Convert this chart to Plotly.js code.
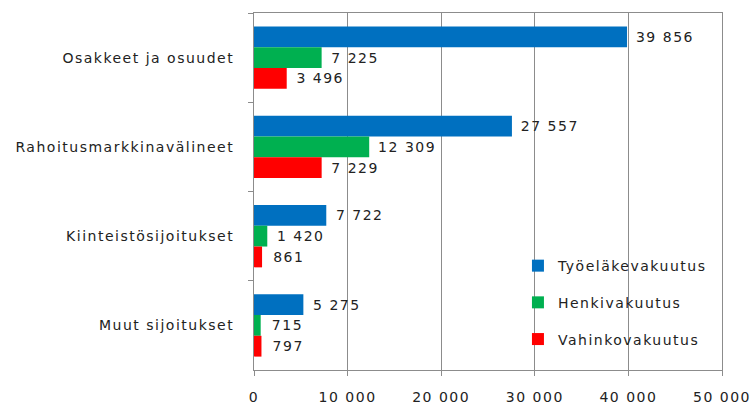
<!DOCTYPE html>
<html><head><meta charset="utf-8">
<script src="https://cdn.plot.ly/plotly-3.0.1.min.js"></script>
<style>html,body{margin:0;padding:0;background:#fff}
#chart text{letter-spacing:1.5px}
#chart .legend [clip-path]{clip-path:none !important}</style>
</head><body>
<div id="chart" style="width:752px;height:405px"></div>
<script>
var categories = ["Osakkeet ja osuudet", "Rahoitusmarkkinavälineet", "Kiinteistösijoitukset", "Muut sijoitukset"];
var seriesNames = ["Työeläkevakuutus", "Henkivakuutus", "Vahinkovakuutus"];
var tyoelake = [39856, 27557, 7722, 5275];
var henki = [7225, 12309, 1420, 715];
var vahinko = [3496, 7229, 861, 797];
var xTicks = [0, 10000, 20000, 30000, 40000, 50000];
var colors = ["#0070C0", "#00B050", "#FF0000"];

function fmt(v){ return "\u00a0\u00a0" + String(v).replace(/\B(?=(\d{3})+(?!\d))/g, " "); }
var FONT = "DejaVu Sans, sans-serif";
var series = [tyoelake, henki, vahinko];
var traces = series.map(function(vals, i){
  return {
    type: "bar", orientation: "h",
    name: seriesNames[i], legendgroup: "g" + i,
    y: categories, x: vals,
    text: vals.map(fmt), textposition: "outside", cliponaxis: false,
    textfont: {family: FONT, size: 14, color: "#222"},
    marker: {color: colors[i]}
  };
});
var layout = {
  width: 752, height: 405,
  margin: {l: 254, r: 30, t: 13, b: 35},
  paper_bgcolor: "#fff", plot_bgcolor: "#fff",
  barmode: "group", bargap: 0.3, bargroupgap: 0,
  separators: ", ",
  font: {family: FONT, size: 14, color: "#222"},
  showlegend: true,
  legend: {x: 0.564, y: 0.336, xanchor: "left", yanchor: "top", traceorder: "grouped",
    tracegroupgap: 15.5, bgcolor: "rgba(0,0,0,0)", font: {family: FONT, size: 14, color: "#222"}},
  xaxis: {range: [0, 50000], tickvals: xTicks, tickformat: ",", showgrid: true, gridcolor: "#8c8c8c",
    showline: true, linecolor: "#8c8c8c", mirror: true, ticks: "outside", ticklen: 5, tickcolor: "#8c8c8c",
    ticklabelstandoff: 9, zeroline: false, fixedrange: true},
  yaxis: {autorange: "reversed", showline: true, linecolor: "#8c8c8c", mirror: true, ticks: "outside",
    tickson: "boundaries", ticklen: 5, tickcolor: "#8c8c8c", ticklabelstandoff: 16, showgrid: false, fixedrange: true}
};
Plotly.newPlot("chart", traces, layout, {staticPlot: true});
</script>
</body></html>
